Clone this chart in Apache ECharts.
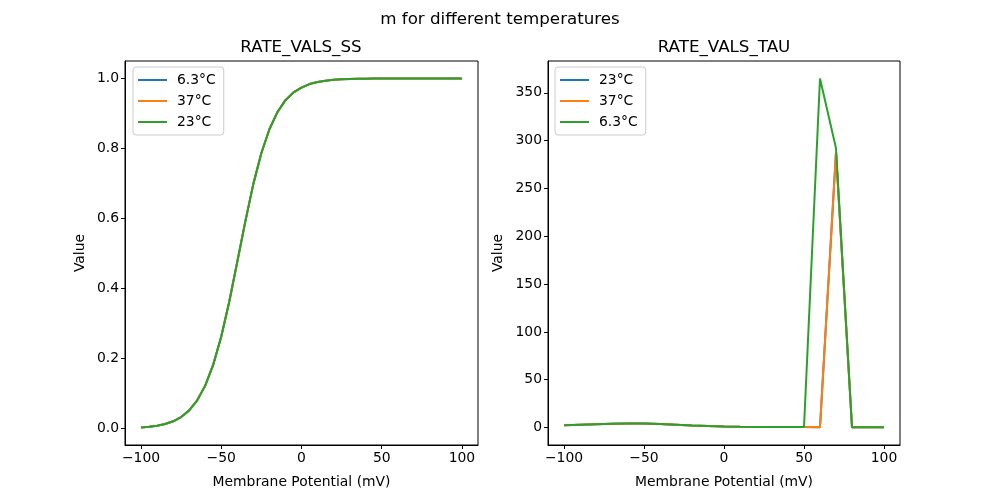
<!DOCTYPE html>
<html>
<head>
<meta charset="utf-8">
<script src="https://cdn.jsdelivr.net/npm/echarts@6/dist/echarts.min.js"></script>
<style>html,body{margin:0;padding:0;background:#fff}#c{width:1000px;height:500px}</style>
</head>
<body>
<div id="c"></div>
<script>
// ---- data ----
var voltageSS = [-100,-95,-90,-85,-80,-75,-70,-65,-60,-55,-50,-45,-40,-35,-30,-25,-20,-15,-10,-5,0,5,10,15,20,25,30,35,40,45,50,55,60,65,70,75,80,85,90,95,100];
var ss63 = [0.0033,0.0053,0.0084,0.0134,0.0212,0.0334,0.0523,0.081,0.123,0.183,0.263,0.363,0.477,0.592,0.699,0.787,0.855,0.904,0.938,0.960,0.974,0.984,0.990,0.9936,0.996,0.9975,0.9984,0.999,0.9994,0.9996,0.9998,0.9999,0.9999,1.0,1.0,1.0,1.0,1.0,1.0,1.0,1.0];
var ss37 = [0.0033,0.0053,0.0084,0.0134,0.0212,0.0334,0.0523,0.081,0.123,0.183,0.263,0.363,0.477,0.592,0.699,0.787,0.855,0.904,0.938,0.960,0.974,0.984,0.990,0.9936,0.996,0.9975,0.9984,0.999,0.9994,0.9996,0.9998,0.9999,0.9999,1.0,1.0,1.0,1.0,1.0,1.0,1.0,1.0];
var ss23 = [0.0033,0.0053,0.0084,0.0134,0.0212,0.0334,0.0523,0.081,0.123,0.183,0.263,0.363,0.477,0.592,0.699,0.787,0.855,0.904,0.938,0.960,0.974,0.984,0.990,0.9936,0.996,0.9975,0.9984,0.999,0.9994,0.9996,0.9998,0.9999,0.9999,1.0,1.0,1.0,1.0,1.0,1.0,1.0,1.0];

var voltageTau = [-100,-90,-80,-70,-60,-50,-40,-30,-20,-10,0,10,20,30,40,50,60,70,80,90,100];
var tau23  = [2.4,3.0,3.5,4.0,4.3,4.3,3.8,3.0,2.1,1.5,1.1,0.8,0.65,0.55,0.5,0.45,0.4,288,0.3,0.3,0.3];
var tau37  = [2.4,3.0,3.5,4.0,4.3,4.3,3.8,3.0,2.1,1.5,1.1,0.8,0.65,0.55,0.5,0.45,0.4,288,0.3,0.3,0.3];
var tau63  = [2.4,3.0,3.5,4.0,4.3,4.3,3.8,3.0,2.1,1.5,1.1,0.8,0.65,0.55,0.5,0.45,365,292,0.3,0.3,0.3];

var ssLabels = ['6.3°C','37°C','23°C'];
var tauLabels = ['23°C','37°C','6.3°C'];
var xTicks = [-100,-50,0,50,100];
var ssTicks = [0,0.2,0.4,0.6,0.8,1.0];
var tauTicks = [0,50,100,150,200,250,300,350];

var C_BLUE = '#1f77b4', C_ORANGE = '#ff7f0e', C_GREEN = '#2ca02c';
var FONT = 'DejaVu Sans';

function pairs(xs, ys){ return xs.map(function(x,i){ return [x, ys[i]]; }); }
function fmtMinus(v){ return String(v).replace('-', '\u2212'); }

function xAxisCfg(gi){
  return {
    type:'value', gridIndex:gi, min:-110, max:110,
    name:'Membrane Potential (mV)', nameLocation:'middle', nameGap:30,
    nameTextStyle:{fontFamily:FONT, fontSize:13.9, color:'#000'},
    axisLine:{show:true, onZero:false, lineStyle:{color:'#000', width:1}},
    axisTick:{show:true, inside:false, length:4, customValues:xTicks, lineStyle:{color:'#000'}},
    axisLabel:{customValues:xTicks, formatter:fmtMinus, fontFamily:FONT, fontSize:13.9, color:'#000', margin:6},
    splitLine:{show:false}
  };
}
function yAxisCfg(gi, mn, mx, ticks, fmt, gap){
  return {
    type:'value', gridIndex:gi, min:mn, max:mx,
    name:'Value', nameLocation:'middle', nameGap:gap, nameRotate:90,
    nameTextStyle:{fontFamily:FONT, fontSize:13.9, color:'#000'},
    axisLine:{show:true, onZero:false, lineStyle:{color:'#000', width:1}},
    axisTick:{show:true, inside:false, length:4, customValues:ticks, lineStyle:{color:'#000'}},
    axisLabel:{customValues:ticks, formatter:fmt, fontFamily:FONT, fontSize:13.9, color:'#000', margin:6},
    splitLine:{show:false}
  };
}
function lineSeries(name, data, color, xi, yi){
  return {type:'line', name:name, data:data, xAxisIndex:xi, yAxisIndex:yi, symbol:'none',
    lineStyle:{color:color, width:2}, itemStyle:{color:color}, animation:false};
}
function legendCfg(left, names){
  return {
    data:names, orient:'vertical', left:left, top:67,
    icon:'rect', itemWidth:29, itemHeight:2, itemGap:5,
    padding:[5,8,5,5],
    backgroundColor:'#fff', borderColor:'#cccccc', borderWidth:1, borderRadius:3,
    textStyle:{fontFamily:FONT, fontSize:13.9, color:'#000', padding:[0,0,0,5], lineHeight:16},
    formatter:function(n){ return n.replace(/^tau:/, ''); },
    selectedMode:false
  };
}

var chart = echarts.init(document.getElementById('c'), null, {renderer:'canvas'});
chart.setOption({
  backgroundColor:'#fff',
  animation:false,
  title:[
    {text:'m for different temperatures', left:495, textAlign:'center', top:6,
     textStyle:{fontFamily:FONT, fontSize:16.7, fontWeight:'normal', color:'#000'}},
    {text:'RATE_VALS_SS', left:296, textAlign:'center', top:34,
     textStyle:{fontFamily:FONT, fontSize:16.7, fontWeight:'normal', color:'#000'}},
    {text:'RATE_VALS_TAU', left:719, textAlign:'center', top:34,
     textStyle:{fontFamily:FONT, fontSize:16.7, fontWeight:'normal', color:'#000'}}
  ],
  grid:[
    {left:125, top:61, width:353, height:384, show:true, borderColor:'#000', borderWidth:1, backgroundColor:'#fff'},
    {left:548, top:61, width:352, height:384, show:true, borderColor:'#000', borderWidth:1, backgroundColor:'#fff'}
  ],
  xAxis:[xAxisCfg(0), xAxisCfg(1)],
  yAxis:[
    yAxisCfg(0, -0.0465, 1.0498, ssTicks, function(v){ return v.toFixed(1); }, 38),
    yAxisCfg(1, -18.25, 383.25, tauTicks, function(v){ return String(v); }, 43)
  ],
  legend:[
    legendCfg(133, ssLabels),
    legendCfg(555, tauLabels.map(function(n){ return 'tau:' + n; }))
  ],
  series:[
    lineSeries(ssLabels[0], pairs(voltageSS, ss63), C_BLUE, 0, 0),
    lineSeries(ssLabels[1], pairs(voltageSS, ss37), C_ORANGE, 0, 0),
    lineSeries(ssLabels[2], pairs(voltageSS, ss23), C_GREEN, 0, 0),
    lineSeries('tau:' + tauLabels[0], pairs(voltageTau, tau23), C_BLUE, 1, 1),
    lineSeries('tau:' + tauLabels[1], pairs(voltageTau, tau37), C_ORANGE, 1, 1),
    lineSeries('tau:' + tauLabels[2], pairs(voltageTau, tau63), C_GREEN, 1, 1)
  ]
});
</script>
</body>
</html>
